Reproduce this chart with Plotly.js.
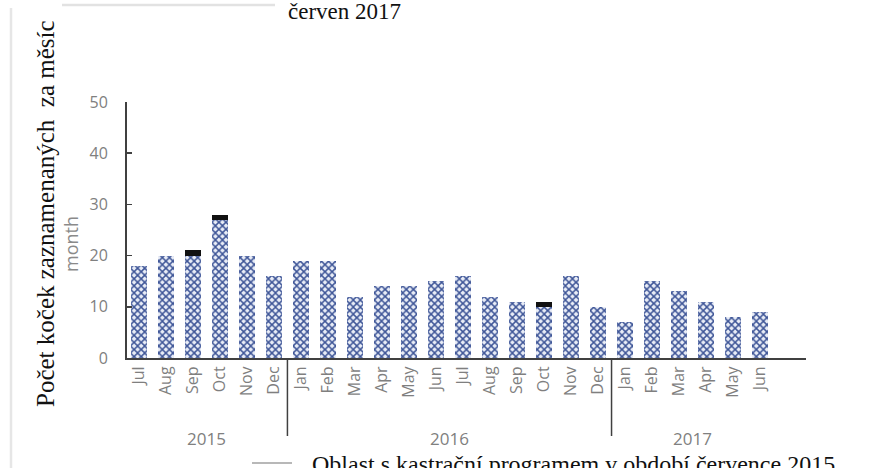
<!DOCTYPE html>
<html>
<head>
<meta charset="utf-8">
<script src="https://cdn.plot.ly/plotly-3.0.1.min.js"></script>
<style>
  html, body { margin: 0; padding: 0; background: #ffffff; }
  #chart { width: 869px; height: 468px; }
</style>
</head>
<body>
<div id="chart"></div>
<script>
// ---- Data ----
const months = ["Jul","Aug","Sep","Oct","Nov","Dec",
                "Jan","Feb","Mar","Apr","May","Jun","Jul","Aug","Sep","Oct","Nov","Dec",
                "Jan","Feb","Mar","Apr","May","Jun"];
const years = ["2015","2016","2017"];
const yearStart = [0, 6, 18];
const yearEnd = [5, 17, 23];
const catsMain = [18,20,20,27,20,16, 19,19,12,14,14,15,16,12,11,10,16,10, 7,15,13,11,8,9];
const catsExtra = [0,0,1,1,0,0, 0,0,0,0,0,0,0,0,0,1,0,0, 0,0,0,0,0,0];
const yTicks = [0,10,20,30,40,50];
const yTitle = "month";
const sideTitle = "Počet koček zaznamenaných  za měsíc";
const topText = "červen 2017";
const bottomText = "Oblast s kastrační programem v období července 2015";

// ---- Layout helpers (pixel -> paper) ----
const W = 869, H = 468;
const L = 127, R = 806, T = 102, B = 358;
const xp = px => (px - L) / (R - L);
const yp = py => (B - py) / (B - T);

const xIdx = months.map((_, i) => i);

const traces = [
  {
    type: "bar",
    x: xIdx,
    y: catsMain,
    marker: {
      color: "#e6eaf5",
      line: { width: 0 },
      pattern: { shape: "x", fgcolor: "#3e5597", bgcolor: "#e9edf7", size: 5, solidity: 0.5 }
    },
    hoverinfo: "skip",
    showlegend: false
  },
  {
    type: "bar",
    x: xIdx,
    y: catsExtra,
    marker: { color: "#111111", line: { width: 0 } },
    hoverinfo: "skip",
    showlegend: false
  }
];

const shapes = [];
// year separators
for (let k = 1; k < years.length; k++) {
  const xv = yearStart[k] - 0.5;
  shapes.push({ type: "line", xref: "x", yref: "paper", x0: xv, x1: xv,
    y0: 0, y1: yp(436), line: { color: "#404040", width: 1.5 } });
}
// decorative lines from the scanned page
shapes.push({ type: "line", xref: "paper", yref: "paper", x0: xp(62), x1: xp(275), y0: yp(5), y1: yp(5),
  line: { color: "#e2e2e2", width: 2.5 } });
shapes.push({ type: "line", xref: "paper", yref: "paper", x0: xp(11), x1: xp(11), y0: yp(8), y1: yp(468),
  line: { color: "#e6e6e6", width: 2.5 } });
shapes.push({ type: "line", xref: "paper", yref: "paper", x0: xp(252), x1: xp(292), y0: yp(463), y1: yp(463),
  line: { color: "#b8b8b8", width: 2 } });

const annotations = [];
years.forEach((yr, k) => {
  annotations.push({ xref: "x", yref: "paper", x: (yearStart[k] + yearEnd[k]) / 2, y: yp(425),
    text: yr, showarrow: false, xanchor: "center", yanchor: "top",
    font: { family: "Open Sans, sans-serif", size: 17, color: "#808080" } });
});
annotations.push({ xref: "paper", yref: "paper", x: xp(71), y: yp(244), text: yTitle, textangle: -90,
  showarrow: false, xanchor: "center", yanchor: "middle",
  font: { family: "Open Sans, sans-serif", size: 18, color: "#8a8a8a" } });
annotations.push({ xref: "paper", yref: "paper", x: xp(45), y: yp(214), text: sideTitle, textangle: -90,
  showarrow: false, xanchor: "center", yanchor: "middle",
  font: { family: "Liberation Serif, Times New Roman, serif", size: 25, color: "#111111" } });
annotations.push({ xref: "paper", yref: "paper", x: xp(287), y: yp(-2), text: topText,
  showarrow: false, xanchor: "left", yanchor: "top", borderpad: 0,
  font: { family: "Liberation Serif, Times New Roman, serif", size: 23, color: "#111111" } });
annotations.push({ xref: "paper", yref: "paper", x: xp(311), y: yp(450), text: bottomText,
  showarrow: false, xanchor: "left", yanchor: "top", borderpad: 0,
  font: { family: "Liberation Serif, Times New Roman, serif", size: 24, color: "#111111" } });

const layout = {
  width: W, height: H,
  margin: { l: L, r: W - R, t: T, b: H - B, pad: 0 },
  paper_bgcolor: "#ffffff",
  plot_bgcolor: "#ffffff",
  barmode: "stack",
  bargap: 0.43,
  showlegend: false,
  xaxis: {
    range: [-0.44, 24.7],
    tickmode: "array",
    tickvals: xIdx,
    ticktext: months,
    tickangle: -90,
    ticks: "",
    showgrid: false,
    zeroline: false,
    showline: true,
    linecolor: "#404040",
    linewidth: 2,
    tickfont: { family: "Open Sans, sans-serif", size: 16, color: "#7f7f7f" },
    fixedrange: true
  },
  yaxis: {
    range: [0, 50],
    tickmode: "array",
    tickvals: yTicks,
    ticks: "inside",
    ticklen: 5,
    tickwidth: 1.5,
    tickcolor: "#404040",
    showgrid: false,
    zeroline: false,
    showline: true,
    linecolor: "#404040",
    linewidth: 2,
    ticklabelstandoff: 14,
    tickfont: { family: "Open Sans, sans-serif", size: 16, color: "#808080" },
    fixedrange: true
  },
  shapes: shapes,
  annotations: annotations
};

Plotly.newPlot("chart", traces, layout, { staticPlot: true, displayModeBar: false });
</script>
</body>
</html>
